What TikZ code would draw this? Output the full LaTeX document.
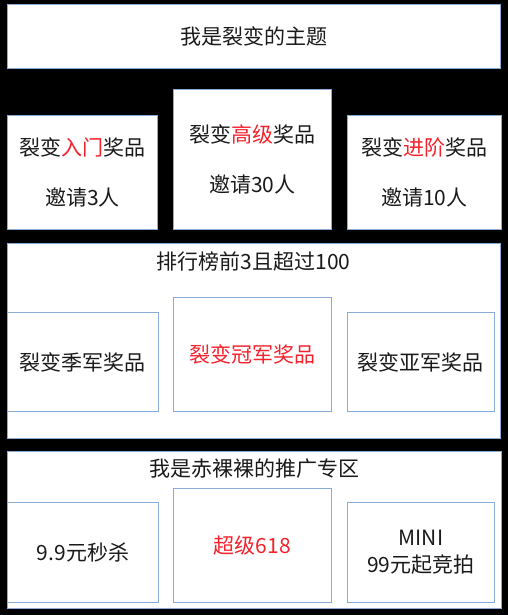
\documentclass[tikz,border=0pt]{standalone}
\usepackage{fontspec}
\setmainfont{Noto Sans CJK SC}
\usepackage{xcolor}
\usetikzlibrary{positioning}
\definecolor{boxline}{HTML}{8AACD8}
\definecolor{hot}{HTML}{F5222D}
\definecolor{ink}{HTML}{1A1A1A}

\tikzset{
  box/.style={draw=boxline, fill=white, line width=0.9pt, inner sep=0pt, anchor=north west,
    align=center, text=ink, font=\fontsize{21}{27}\selectfont},
  twoline/.style={font=\fontsize{21}{50}\selectfont},
  heading/.style={inner sep=0pt, text=ink, font=\fontsize{21}{25}\selectfont},
}

\begin{document}
\begin{tikzpicture}[x=1pt,y=-1pt]
    \fill[black] (0,0) rectangle (508,615);

    % theme
    \node[box, minimum width=493, minimum height=64] (theme) at (7,4) {我是裂变的主题};

    % invite prizes
    \node[box, twoline, minimum width=150, minimum height=114] (entry) at (7,115) {裂变\textcolor{hot}{入门}奖品\\邀请3人};
    \node[box, twoline, minimum width=158, minimum height=140] (senior) at (173,89) {裂变\textcolor{hot}{高级}奖品\\邀请30人};
    \node[box, twoline, minimum width=154, minimum height=114] (advance) at (347,115) {裂变\textcolor{hot}{进阶}奖品\\邀请10人};

    % ranking
    \node[box, minimum width=493, minimum height=195] (rank) at (7,243) {};
    \node[heading] (ranktitle) at (253.5,261) {排行榜前3且超过100};
    \node[box, minimum width=151, minimum height=99] (season) at (7,312) {裂变季军奖品};
    \node[box, minimum width=158, minimum height=114, text=hot] (champ) at (173,297) {裂变冠军奖品};
    \node[box, minimum width=147, minimum height=99] (runner) at (347,312) {裂变亚军奖品};

    % promotion
    \node[box, minimum width=494, minimum height=157] (promo) at (7,451) {};
    \node[heading] (promotitle) at (254.5,469) {我是赤裸裸的推广专区};
    \node[box, minimum width=151, minimum height=100] (flash) at (7,502) {9.9元秒杀};
    \node[box, minimum width=158, minimum height=114, text=hot] (super) at (173,488) {超级618};
    \node[box, minimum width=147, minimum height=100] (mini) at (347,502) {MINI\\99元起竞拍};
\end{tikzpicture}
\end{document}
